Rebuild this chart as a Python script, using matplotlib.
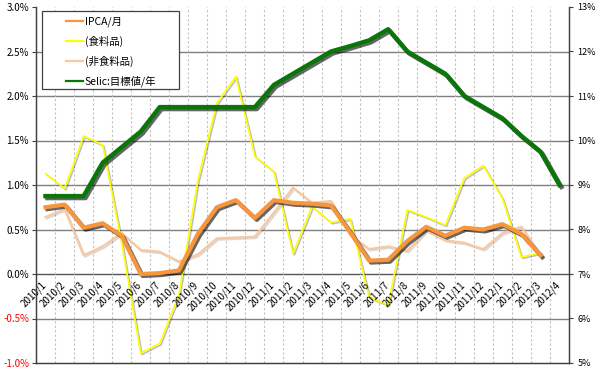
import matplotlib
matplotlib.use('Agg')
import matplotlib.pyplot as plt
import matplotlib.patheffects as pe
import matplotlib.transforms as mtransforms
from matplotlib.lines import Line2D
from matplotlib.patches import Rectangle
import numpy as np

plt.rcParams['font.family'] = ['Noto Sans CJK JP', 'DejaVu Sans']

months = ['2010/1', '2010/2', '2010/3', '2010/4', '2010/5', '2010/6', '2010/7',
          '2010/8', '2010/9', '2010/10', '2010/11', '2010/12',
          '2011/1', '2011/2', '2011/3', '2011/4', '2011/5', '2011/6', '2011/7',
          '2011/8', '2011/9', '2011/10', '2011/11', '2011/12',
          '2012/1', '2012/2', '2012/3', '2012/4']

# monthly change, % (left axis) - data ends at 2012/3
ipca = [0.75, 0.78, 0.52, 0.57, 0.43, 0.00, 0.01, 0.04, 0.45, 0.75, 0.83, 0.63,
        0.83, 0.80, 0.79, 0.77, 0.47, 0.15, 0.16, 0.37, 0.53, 0.43, 0.52, 0.50,
        0.56, 0.45, 0.21]
food = [1.13, 0.96, 1.55, 1.45, 0.35, -0.89, -0.78, -0.24, 1.05, 1.92, 2.22, 1.32,
        1.15, 0.23, 0.76, 0.58, 0.62, -0.26, -0.35, 0.72, 0.64, 0.55, 1.08, 1.22,
        0.85, 0.19, 0.24]
nonfood = [0.64, 0.73, 0.21, 0.31, 0.46, 0.27, 0.25, 0.14, 0.22, 0.40, 0.41, 0.42,
           0.69, 0.97, 0.80, 0.82, 0.44, 0.28, 0.31, 0.26, 0.49, 0.38, 0.35, 0.28,
           0.46, 0.53, 0.21]
# Selic target, % per year (right axis)
selic = [8.75, 8.75, 8.75, 9.5, 9.85, 10.2, 10.75, 10.75, 10.75, 10.75, 10.75, 10.75,
         11.25, 11.5, 11.75, 12.0, 12.12, 12.25, 12.5, 12.0, 11.75, 11.5, 11.0, 10.75,
         10.5, 10.1, 9.75, 9.0]

left_ticks = np.arange(-1.0, 3.01, 0.5)
right_ticks = np.arange(5, 14, 1)

C_IPCA = '#F7963C'
C_FOOD = '#FFFF00'
C_NONFOOD = '#FAC8A0'
C_SELIC = '#0A760A'


def shadow(alpha=0.55, off=1.3):
    return [pe.SimpleLineShadow(offset=(off, -off), shadow_color='black', alpha=alpha),
            pe.Normal()]


fig = plt.figure(figsize=(5.99, 3.71), dpi=100)
ax = fig.add_axes([36 / 599, 8 / 371, 533 / 599, 356 / 371])
ax2 = ax.twinx()

x = np.arange(len(months))
n = len(ipca)

ax.plot(x[:n], food, color=C_FOOD, lw=1.2, path_effects=shadow(0.25, 1.0), zorder=3)
ax.plot(x[:n], nonfood, color=C_NONFOOD, lw=1.6, path_effects=shadow(0.15, 1.0), zorder=3)
ax.plot(x[:n], ipca, color=C_IPCA, lw=3.0, path_effects=shadow(0.6, 1.4), zorder=4)
ax2.plot(x, selic, color=C_SELIC, lw=3.2, path_effects=shadow(0.6, 1.4), zorder=4)

ax.set_xlim(-0.5, len(months) - 0.5)
ax.set_ylim(-1.0, 3.0)
ax2.set_ylim(5, 13)

# grid
for v in left_ticks[1:-1]:
    ax.axhline(v, color='#555555' if v == 0 else '#7f7f7f', lw=1.0, zorder=1)
for b in np.arange(0.5, len(months) - 0.5, 1):
    ax.axvline(b, color='#c0c0c0', lw=0.8, ls=(0, (2, 2)), zorder=1)

ax.set_xticks([])
ax.set_yticks(left_ticks)
ax.set_yticklabels(['%.1f%%' % v for v in left_ticks], fontsize=7)
for lab, v in zip(ax.get_yticklabels(), left_ticks):
    lab.set_color('#FF0000' if v < 0 else 'black')
ax2.set_yticks(right_ticks)
ax2.set_yticklabels(['%d%%' % v for v in right_ticks], fontsize=6.5)
ax.tick_params(axis='y', length=3, width=0.8, color='#404040', pad=2)
ax2.tick_params(axis='y', length=3, width=0.8, color='#404040', pad=3)

for a in (ax, ax2):
    a.spines['top'].set_visible(False)
    for s in ('left', 'right', 'bottom'):
        a.spines[s].set_color('#404040')
        a.spines[s].set_linewidth(0.9)

# category labels hanging below the zero line
off = mtransforms.ScaledTranslation(3 / 100, -6 / 100, fig.dpi_scale_trans)
for i, m in enumerate(months):
    ax.text(i, 0, m, rotation=45, ha='right', va='top', fontsize=7,
            transform=ax.transData + off, zorder=5)

# legend: white box with thin keys
box = Rectangle((6 / 533, 274 / 356), 137 / 533, 78 / 356, transform=ax2.transAxes,
                facecolor='white', edgecolor='#404040', lw=0.9, zorder=9)
ax2.add_patch(box)
handles = [Line2D([], [], color=C_IPCA, lw=1.6),
           Line2D([], [], color=C_FOOD, lw=1.6),
           Line2D([], [], color=C_NONFOOD, lw=1.6),
           Line2D([], [], color=C_SELIC, lw=1.6)]
labels = ['IPCA/月', '(食料品)', '(非食料品)', 'Selic:目標値/年']
leg = ax2.legend(handles, labels, loc='upper left',
                 bbox_to_anchor=(30 / 533, 1 - 10 / 356), borderaxespad=0,
                 fontsize=7.5, frameon=False, handlelength=1.65,
                 handletextpad=0.15, labelspacing=0.82, borderpad=0)
leg.set_zorder(10)

fig.savefig('out.png', dpi=100, facecolor='white')
